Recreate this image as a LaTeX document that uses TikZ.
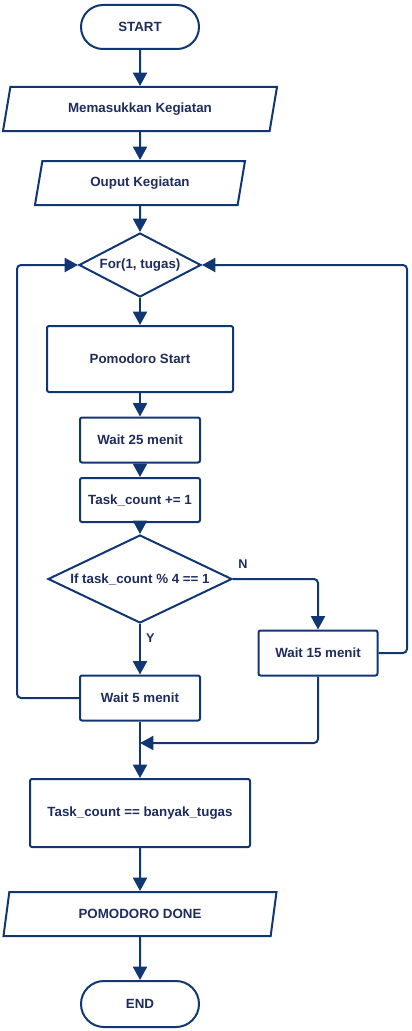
\documentclass[tikz,border=0pt]{standalone}
\usepackage{fontspec}
\setmainfont{Liberation Sans}
\usetikzlibrary{shapes.geometric,shapes.misc,arrows.meta}
\definecolor{flowblue}{RGB}{16,55,115}
\definecolor{flowtext}{RGB}{30,44,94}

\tikzset{every picture/.style={line width=1.5pt}}
\tikzset{
  box/.style={draw=flowblue, text=flowtext, font=\bfseries\fontsize{10}{12}\selectfont, inner sep=0.75pt, align=center},
  terminal/.style={box, rounded rectangle, minimum width=90pt, minimum height=33pt},
  io/.style={box, trapezium, trapezium left angle=63, trapezium right angle=117, trapezium stretches body, minimum height=33pt},
  process/.style={box, rectangle, rounded corners=1.5pt},
  decision/.style={box, diamond, aspect=2, inner sep=0pt},
  flow/.style={draw=flowblue, rounded corners=3pt, -{Triangle[length=10pt,width=10.5pt]}},
  tag/.style={text=flowtext, font=\bfseries\fontsize{9.5}{11}\selectfont, inner sep=0.75pt}
}

\begin{document}
\begin{tikzpicture}[x=0.75pt,y=0.75pt,yscale=-1,xscale=1]
\useasboundingbox (0,0) rectangle (411,1031);

%Shape: Terminal [id:start] 
\node [terminal] (start) at (140,27) {START};
%Shape: Data [id:input] 
\node [io, minimum width=205.5pt] (input) at (140,109) {Memasukkan Kegiatan};
%Shape: Data [id:output] 
\node [io, minimum width=157.5pt] (output) at (140,183) {Ouput Kegiatan};
%Shape: Diamond [id:for] 
\node [decision, minimum width=91.5pt, minimum height=48pt] (for) at (140,265) {For(1, tugas)};
%Shape: Rectangle [id:pomo] 
\node [process, minimum width=139.5pt, minimum height=49.5pt] (pomo) at (140,359) {Pomodoro Start};
%Shape: Rectangle [id:wait25] 
\node [process, minimum width=90pt, minimum height=33.75pt] (wait25) at (140,440) {Wait 25 menit};
%Shape: Rectangle [id:count] 
\node [process, minimum width=90pt, minimum height=33pt] (count) at (140,500) {Task\_count += 1};
%Shape: Diamond [id:cond] 
\node [decision, minimum width=138pt, minimum height=66pt] (cond) at (140,579) {If task\_count \% 4 == 1};
%Shape: Rectangle [id:wait15] 
\node [process, minimum width=89.25pt, minimum height=33.75pt] (wait15) at (318,653) {Wait 15 menit};
%Shape: Rectangle [id:wait5] 
\node [process, minimum width=90pt, minimum height=33.75pt] (wait5) at (140,698) {Wait 5 menit};
%Shape: Rectangle [id:check] 
\node [process, minimum width=165pt, minimum height=51pt] (check) at (140,813) {Task\_count == banyak\_tugas};
%Shape: Data [id:done] 
\node [io, minimum width=204.75pt] (done) at (140,914) {POMODORO DONE};
%Shape: Terminal [id:end] 
\node [terminal, minimum height=34.5pt] (end) at (140,1004) {END};

%Corners of the connectors
\coordinate (lx) at (17,265);
\coordinate (rx) at (407,265);
\coordinate (mg) at (140,743);

%Straight Lines 
\draw [flow] (start) -- (input);
\draw [flow] (input) -- (output);
\draw [flow] (output) -- (for);
\draw [flow] (for) -- (pomo);
\draw [flow] (pomo) -- (wait25);
\draw [flow] (wait25) -- (count);
\draw [flow] (count) -- (cond);
\draw [flow] (cond) -- (wait5) node [tag, pos=0.28, anchor=west, xshift=3] (ylab) {Y};
\draw [flow] (cond.east) -| (wait15.north);
\draw [flow] (wait5.west) -| (lx) -- (for.west);
\draw [flow] (wait15.east) -| (rx) -- (for.east);
\draw [flow] (wait15.south) |- (mg);
\draw [flow] (wait5) -- (check);
\draw [flow] (check) -- (done);
\draw [flow] (done) -- (end);

% Text Node
\node [tag] (nlab) at (243,564) {N};

\end{tikzpicture}
\end{document}
